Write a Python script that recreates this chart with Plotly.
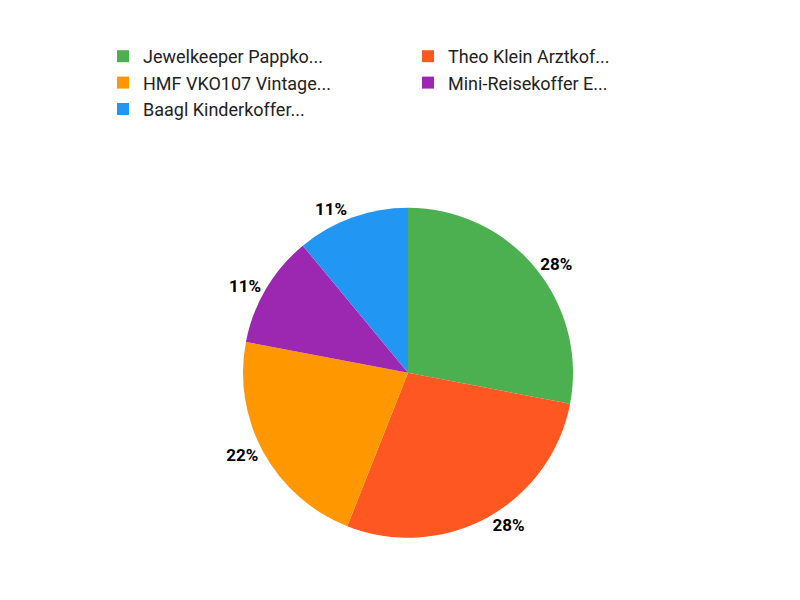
import plotly.graph_objects as go

labels = ["Jewelkeeper Pappko...", "Theo Klein Arztkof...", "HMF VKO107 Vintage...", "Mini-Reisekoffer E...", "Baagl Kinderkoffer..."]
values = [28, 28, 22, 11, 11]
colors = ["#4CAF50", "#FF5722", "#FF9800", "#9C27B0", "#2196F3"]

fig = go.Figure(go.Pie(
    labels=labels, values=values, sort=False, direction="clockwise", rotation=0,
    marker=dict(colors=colors), textinfo="percent", textposition="outside",
    texttemplate="<b>%{percent:.0%}</b>",
    textfont=dict(family="Roboto", size=17, color="#000"),
    domain=dict(x=[0.2, 0.8], y=[0.117, 0.667]), showlegend=True,
))
fig.update_layout(
    width=800, height=600, paper_bgcolor="white", plot_bgcolor="white",
    margin=dict(l=0, r=0, t=0, b=0),
    font=dict(family="Roboto", size=17, color="#222"),
    legend=dict(orientation="h", x=0.5, xanchor="center", y=0.95, yanchor="top",
                entrywidth=260, font=dict(size=18), traceorder="normal"),
)
fig.write_html("out.html")
